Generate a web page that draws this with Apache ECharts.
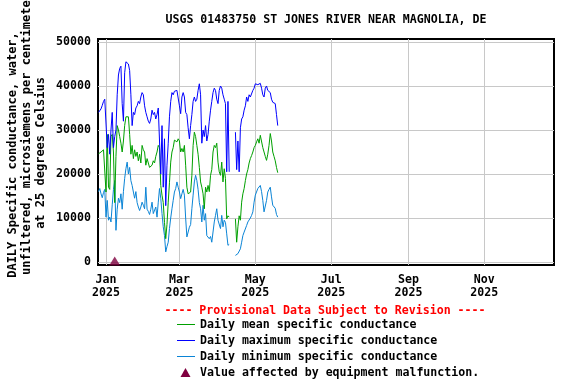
<!DOCTYPE html>
<html>
<head>
<meta charset="utf-8">
<script src="https://cdn.jsdelivr.net/npm/echarts@6/dist/echarts.min.js"></script>
<style>
html,body{margin:0;padding:0;background:#fff;}
#chart{width:576px;height:384px;}
</style>
</head>
<body>
<div id="chart"></div>
<script>
// ---- data (daily values, first day 2024-12-26) ----
const firstDay = [2024, 11, 26];
const maxCond = [34000,34300,34800,35600,36500,37000,37000,26000,29000,24500,30000,34000,26000,28500,30000,38000,42500,44000,44500,36000,32000,43000,45500,45800,45000,43500,38000,31000,34000,33500,35000,35500,36500,36000,37500,38500,38000,35500,34000,33000,32000,31500,32500,34500,33500,34000,32500,33500,35000,35200,20000,31000,17000,28000,12800,22000,27000,33000,36500,38500,38000,38800,38500,39000,38600,35500,33700,37500,38500,37500,34000,33500,30500,28000,31000,33500,36500,37500,36500,37000,39000,40500,38000,27000,30000,28500,31000,27500,29000,32000,34500,36500,38500,39500,39000,37000,36000,39000,40000,39500,38000,37000,36000,20500,36500,20500,null,null,null,null,29500,21000,27500,20500,30500,32500,33000,34500,35500,37500,36500,38000,37500,37800,39000,39500,40500,40800,40300,40000,40600,39500,38000,37500,39500,40000,39000,38800,38500,37000,36300,36500,36000,33500,31000];
const meanCond = [24600,24800,25000,25300,25500,25400,15900,29000,17000,16500,28500,29000,25000,13500,24000,31000,30000,28500,27000,25000,27500,31000,33000,33300,33000,29000,24500,26500,23500,25500,24000,25000,23000,24500,22500,26500,25500,25000,22000,23500,22500,21500,21200,22000,23000,22500,24000,25000,26500,26000,17400,15200,13500,9000,5300,8500,13600,18000,22700,25000,26000,27700,28000,27300,28000,27500,25000,25800,25000,26500,22000,17000,15500,15200,15900,19700,26500,29500,28500,26500,24500,21500,18200,17000,15500,12100,17000,15900,17400,16000,19700,21000,25000,26500,26000,27000,22700,20500,19700,22700,18200,21200,19000,9800,10500,10200,null,null,null,null,9800,4500,8000,10500,9500,13600,15500,16700,18500,20000,21000,22500,23500,24200,25000,26000,26500,27300,28000,27000,28800,28500,26000,25000,24000,23100,24500,26500,29200,27500,25000,24000,23000,21500,20300];
const minCond = [16000,16700,15500,14600,15800,16500,10200,14000,9500,10200,9100,13000,16500,18500,7200,12000,14500,13500,15500,12000,16000,19000,21200,22700,20000,21500,18500,17400,15900,14500,16000,13500,12500,11700,12500,13600,12900,12100,17000,12000,11500,10800,12000,13600,11000,10600,12500,10200,13600,16700,14500,11000,8000,6000,2300,3500,4500,7600,10000,12100,14000,15900,16700,18200,17000,15900,14400,15500,16500,15200,10000,5700,5300,7900,8500,12100,15200,18200,19700,18500,16500,13500,12100,9100,12900,9500,11000,6000,6400,5300,5800,4500,4200,9100,10600,12100,9500,9100,7600,10600,8000,9500,9000,6400,3800,4000,null,null,null,null,1500,1100,1900,1500,3000,4500,6000,6800,6500,8300,9100,9000,10000,10600,11400,13600,15200,14800,16700,17000,17400,16000,14000,11400,11800,14000,15900,16500,17000,14800,12900,12500,12200,10800,10200];
const malfunctionDates = [[2025, 0, 8]];
const malfunctionValues = [0];
const xTickDates = [[2025,0,1],[2025,2,1],[2025,4,1],[2025,6,1],[2025,8,1],[2025,10,1]];
const yTicks = [0, 10000, 20000, 30000, 40000, 50000];
const monthNames = ['Jan','Feb','Mar','Apr','May','Jun','Jul','Aug','Sep','Oct','Nov','Dec'];

// x axis is measured in days since 2025-01-01
const DAY = 86400000;
const jan1 = Date.UTC(2025,0,1);
function dayOf(y,m,d){ return Math.round((Date.UTC(y,m,d) - jan1) / DAY); }
const firstIdx = dayOf(firstDay[0], firstDay[1], firstDay[2]);
function pairs(arr){ return arr.map((v,i)=>[firstIdx + i, v]); }
const xTicks = xTickDates.map(d=>dayOf(d[0],d[1],d[2]));
const xMin = -6.43;
const xMax = 360;

const FONT = "'DejaVu Sans Mono', 'Liberation Mono', monospace";
const chart = echarts.init(document.getElementById('chart'), null, {renderer:'canvas'});

const option = {
  animation: false,
  backgroundColor: '#ffffff',
  grid: { left: 98, top: 39, width: 456, height: 226, show: true, borderColor: '#000', borderWidth: 2, backgroundColor: 'transparent', containLabel: false },
  xAxis: {
    type: 'value', min: xMin, max: xMax,
    axisLine: { show: false },
    axisTick: { show: false, customValues: xTicks },
    splitLine: { show: true, lineStyle: { color: '#c8c8c8', width: 1 } },
    axisLabel: {
      customValues: xTicks, margin: 8, color: '#000', fontFamily: FONT, fontWeight: 'bold', fontSize: 11.6, lineHeight: 13,
      formatter: function(v){ const d = new Date(jan1 + Math.round(v)*DAY); return monthNames[d.getUTCMonth()] + '\n' + d.getUTCFullYear(); }
    }
  },
  yAxis: {
    type: 'value', min: -680, max: 50680,
    axisLine: { show: false },
    axisTick: { show: false, customValues: yTicks },
    splitLine: { show: true, lineStyle: { color: '#c8c8c8', width: 1 } },
    axisLabel: { customValues: yTicks, margin: 7, color: '#000', fontFamily: FONT, fontWeight: 'bold', fontSize: 11.6,
      formatter: function(v){ return String(Math.round(v)); } }
  },
  series: [
    { name: 'Daily minimum specific conductance', type: 'line', data: pairs(minCond), showSymbol: false, connectNulls: false, lineStyle: { color: '#0a84d6', width: 1 }, itemStyle: { color: '#0a84d6' } },
    { name: 'Daily mean specific conductance', type: 'line', data: pairs(meanCond), showSymbol: false, connectNulls: false, lineStyle: { color: '#00a000', width: 1 }, itemStyle: { color: '#00a000' } },
    { name: 'Daily maximum specific conductance', type: 'line', data: pairs(maxCond), showSymbol: false, connectNulls: false, lineStyle: { color: '#0000ff', width: 1 }, itemStyle: { color: '#0000ff' } },
    { name: 'Value affected by equipment malfunction', type: 'scatter', clip: false, symbol: 'triangle', symbolSize: [11, 9], symbolOffset: [0, -1],
      data: malfunctionDates.map((d,i)=>[dayOf(d[0],d[1],d[2]), malfunctionValues[i]]), itemStyle: { color: '#800040' } }
  ],
  graphic: [
    { type: 'text', x: 326, y: 20, style: { text: 'USGS 01483750 ST JONES RIVER NEAR MAGNOLIA, DE', fill: '#000', font: 'bold 11.6px ' + FONT, textAlign: 'center', textVerticalAlign: 'middle' } },
    { type: 'text', x: 13, y: 155, rotation: Math.PI/2, style: { text: 'DAILY Specific conductance, water,', fill: '#000', font: 'bold 12px ' + FONT, textAlign: 'center', textVerticalAlign: 'middle' } },
    { type: 'text', x: 27, y: 134, rotation: Math.PI/2, style: { text: 'unfiltered, microsiemens per centimeter', fill: '#000', font: 'bold 12px ' + FONT, textAlign: 'center', textVerticalAlign: 'middle' } },
    { type: 'text', x: 41, y: 153, rotation: Math.PI/2, style: { text: 'at 25 degrees Celsius', fill: '#000', font: 'bold 12px ' + FONT, textAlign: 'center', textVerticalAlign: 'middle' } },
    { type: 'text', x: 325, y: 311, style: { text: '---- Provisional Data Subject to Revision ----', fill: '#ff0000', font: 'bold 11.6px ' + FONT, textAlign: 'center', textVerticalAlign: 'middle' } },
    { type: 'line', shape: { x1: 177, y1: 324.5, x2: 195, y2: 324.5 }, style: { stroke: '#00a000', lineWidth: 1 } },
    { type: 'text', x: 200, y: 325, style: { text: 'Daily mean specific conductance', fill: '#000', font: 'bold 11.6px ' + FONT, textAlign: 'left', textVerticalAlign: 'middle' } },
    { type: 'line', shape: { x1: 177, y1: 340.5, x2: 195, y2: 340.5 }, style: { stroke: '#0000ff', lineWidth: 1 } },
    { type: 'text', x: 200, y: 341, style: { text: 'Daily maximum specific conductance', fill: '#000', font: 'bold 11.6px ' + FONT, textAlign: 'left', textVerticalAlign: 'middle' } },
    { type: 'line', shape: { x1: 177, y1: 356.5, x2: 195, y2: 356.5 }, style: { stroke: '#0a84d6', lineWidth: 1 } },
    { type: 'text', x: 200, y: 357, style: { text: 'Daily minimum specific conductance', fill: '#000', font: 'bold 11.6px ' + FONT, textAlign: 'left', textVerticalAlign: 'middle' } },
    { type: 'polygon', shape: { points: [[185.5, 368], [180.5, 377], [190.5, 377]] }, style: { fill: '#800040' } },
    { type: 'text', x: 200, y: 373, style: { text: 'Value affected by equipment malfunction.', fill: '#000', font: 'bold 11.6px ' + FONT, textAlign: 'left', textVerticalAlign: 'middle' } }
  ]
};
chart.setOption(option);
</script>
</body>
</html>
